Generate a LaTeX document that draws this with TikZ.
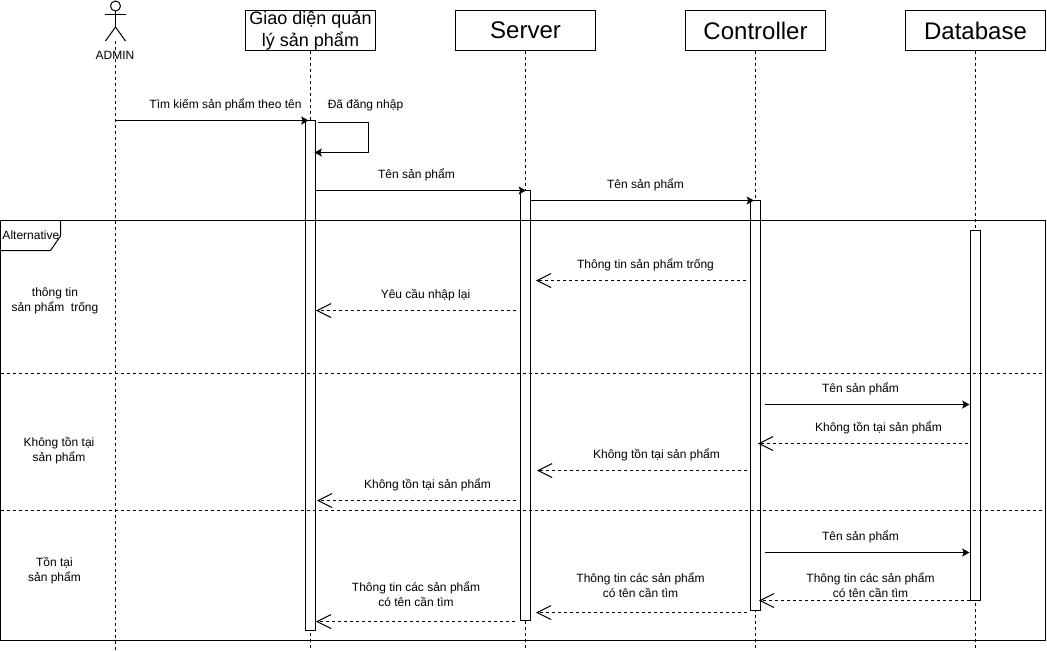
\documentclass[tikz,border=0pt]{standalone}
\usepackage{fontspec}
\setmainfont{Liberation Sans}
\usetikzlibrary{positioning, arrows.meta}

\begin{document}
\begin{tikzpicture}[
x=0.75pt,
y=-0.75pt,
line width=0.75pt,
header/.style={
	rectangle,
	draw,
	fill=white,
	align=center,
	inner sep=0pt,
	outer sep=0pt,
	minimum height=30pt,
	font=\fontsize{18}{21}\selectfont
},
bar/.style={
	rectangle,
	draw,
	fill=white,
	inner sep=0pt,
	outer sep=0pt,
	minimum width=7.5pt
},
label/.style={
	align=center,
	inner sep=0pt,
	font=\fontsize{9}{11.25}\selectfont
},
lifeline/.style={
	draw, dash pattern=on 2.25pt off 2.25pt
},
call/.style={
	draw, -{Stealth[length=5.5pt,width=6pt,inset=1.2pt]}
},
reply/.style={
	draw, dash pattern=on 2.25pt off 2.25pt, -{Straight Barb[length=10.5pt,width=10.5pt]}
}
]
\useasboundingbox (0,0) rectangle (1047,651);

% Headers
\node[header, text height=0pt, text depth=0pt, minimum width=97.5pt] (gui) at (310.5,30.5) {};
\node[header, minimum width=105pt, right=60pt of gui] (server) {Server};
\node[header, minimum width=105pt, right=67.5pt of server] (controller) {Controller};
\node[header, minimum width=105pt, right=60pt of controller] (database) {Database};
\node[label, font=\fontsize{13.5}{16.5}\selectfont] (guitext) at (gui) {Giao diện quản\\lý sản phẩm};

% Actor
\node[circle, draw, inner sep=0pt, outer sep=0pt, minimum size=7.5pt] (adminhead) at (115.5,6) {};
\coordinate (adminhip) at (115.5,27);
\coordinate (adminarml) at (105,14);
\coordinate (adminarmr) at (126,14);
\coordinate (adminlegl) at (105.5,41);
\coordinate (adminlegr) at (125.5,41);
\coordinate (admincrotch) at (115.5,41);
\draw (adminhead) -- (adminhip);
\draw (adminarml) -- (adminarmr);
\draw (adminlegl) -- (adminhip) -- (adminlegr);
\node[label] (admin) at (115,55) {ADMIN};

% Lifeline ends
\coordinate (adminend) at (115.5,650);
\coordinate (guiend) at (310.5,650);
\coordinate (serverend) at (525.5,650);
\coordinate (controllerend) at (755.5,650);
\coordinate (databaseend) at (975.5,650);

% Lifelines
\draw[lifeline] (admincrotch) -- (adminend);
\draw[lifeline] (gui) -- (guiend);
\draw[lifeline] (server) -- (serverend);
\draw[lifeline] (controller) -- (controllerend);
\draw[lifeline] (database) -- (databaseend);

% Activations
\node[bar, minimum height=382.5pt, below=52.5pt of gui] (guibar) {};
\node[bar, minimum height=322.5pt, below=105pt of server] (serverbar) {};
\node[bar, minimum height=307.5pt, below=112.5pt of controller] (controllerbar) {};
\node[bar, minimum height=277.5pt, below=135pt of database] (databasebar) {};

% Frame
\node[rectangle, draw, inner sep=0pt, outer sep=0pt, minimum width=783.75pt, minimum height=315pt] (alt) at (523,430.5) {};
\coordinate (tabtop) at (60.5,220.5);
\coordinate (tabside) at (60.5,236);
\coordinate (tabfoot) at (50.5,250.5);
\coordinate (tableft) at (0.5,250.5);
\draw (tabtop) -- (tabside) -- (tabfoot) -- (tableft);
\node[label, anchor=west] (alttext) at (2,235) {Alternative};
\coordinate (sepal) at (0.5,373.5);
\coordinate (separ) at (1045,373.5);
\coordinate (sepbl) at (0.5,510.5);
\coordinate (sepbr) at (1045,510.5);
\draw[lifeline] (sepal) -- (separ);
\draw[lifeline] (sepbl) -- (sepbr);

% Guards
\node[label] (guardempty) at (55,300.5) {thông tin\\sản phẩm~ trống};
\node[label] (guardnone) at (59,450.5) {Không tồn tại\\sản phẩm};
\node[label] (guardfound) at (54.5,570.5) {Tồn tại\\sản phẩm};

% Message ends
\coordinate (ma) at (115.5,120.5);
\coordinate (mb) at (308.5,120.5);
\coordinate (selfa) at (318,122.5);
\coordinate (selfb) at (368.5,122.5);
\coordinate (selfc) at (368.5,152.5);
\coordinate (selfd) at (314.5,152.5);
\coordinate (nameaa) at (316,190.5);
\coordinate (nameab) at (526,190.5);
\coordinate (nameba) at (530,200.5);
\coordinate (namebb) at (754,200.5);
\coordinate (emptya) at (746,280.5);
\coordinate (emptyb) at (536,280.5);
\coordinate (retrya) at (516,310.5);
\coordinate (retryb) at (316,310.5);
\coordinate (querya) at (765,404.5);
\coordinate (queryb) at (969.5,404.5);
\coordinate (noneaa) at (968,443.5);
\coordinate (noneab) at (758,443.5);
\coordinate (noneba) at (747,470.5);
\coordinate (nonebb) at (537,470.5);
\coordinate (noneca) at (516,500.5);
\coordinate (nonecb) at (317,500.5);
\coordinate (findera) at (765,552.5);
\coordinate (finderb) at (969.5,552.5);
\coordinate (foundaa) at (970,600.5);
\coordinate (foundab) at (759,600.5);
\coordinate (foundba) at (747,612.5);
\coordinate (foundbb) at (536,612.5);
\coordinate (foundca) at (515,621.5);
\coordinate (foundcb) at (316,621.5);

% Lines
\draw[call] (ma) -- (mb);
\draw[call] (selfa) -- (selfb) -- (selfc) -- (selfd);
\draw[call] (nameaa) -- (nameab);
\draw[call] (nameba) -- (namebb);
\draw[reply] (emptya) -- (emptyb);
\draw[reply] (retrya) -- (retryb);
\draw[call] (querya) -- (queryb);
\draw[reply] (noneaa) -- (noneab);
\draw[reply] (noneba) -- (nonebb);
\draw[reply] (noneca) -- (nonecb);
\draw[call] (findera) -- (finderb);
\draw[reply] (foundaa) -- (foundab);
\draw[reply] (foundba) -- (foundbb);
\draw[reply] (foundca) -- (foundcb);

% Labels
\node[label] (lsearch) at (225.5,105) {Tìm kiếm sản phẩm theo tên};
\node[label] (llogin) at (365.5,105) {Đã đăng nhập};
\node[label] (lnamea) at (416.5,175) {Tên sản phẩm};
\node[label] (lnameb) at (645.5,185) {Tên sản phẩm};
\node[label] (lempty) at (645.5,265) {Thông tin sản phẩm trống};
\node[label] (lretry) at (425.5,295) {Yêu cầu nhập lại};
\node[label] (lquery) at (860.5,389) {Tên sản phẩm};
\node[label] (lnonea) at (878.5,428) {Không tồn tại sản phẩm};
\node[label] (lnoneb) at (656.5,455) {Không tồn tại sản phẩm};
\node[label] (lnonec) at (427.5,485) {Không tồn tại sản phẩm};
\node[label] (lfinder) at (860.5,537) {Tên sản phẩm};
\node[label] (lfounda) at (870.5,585.5) {Thông tin các sản phẩm\\có tên cần tìm};
\node[label] (lfoundb) at (640.5,585.5) {Thông tin các sản phẩm\\có tên cần tìm};
\node[label] (lfoundc) at (416,594.5) {Thông tin các sản phẩm\\có tên cần tìm};

\end{tikzpicture}
\end{document}
